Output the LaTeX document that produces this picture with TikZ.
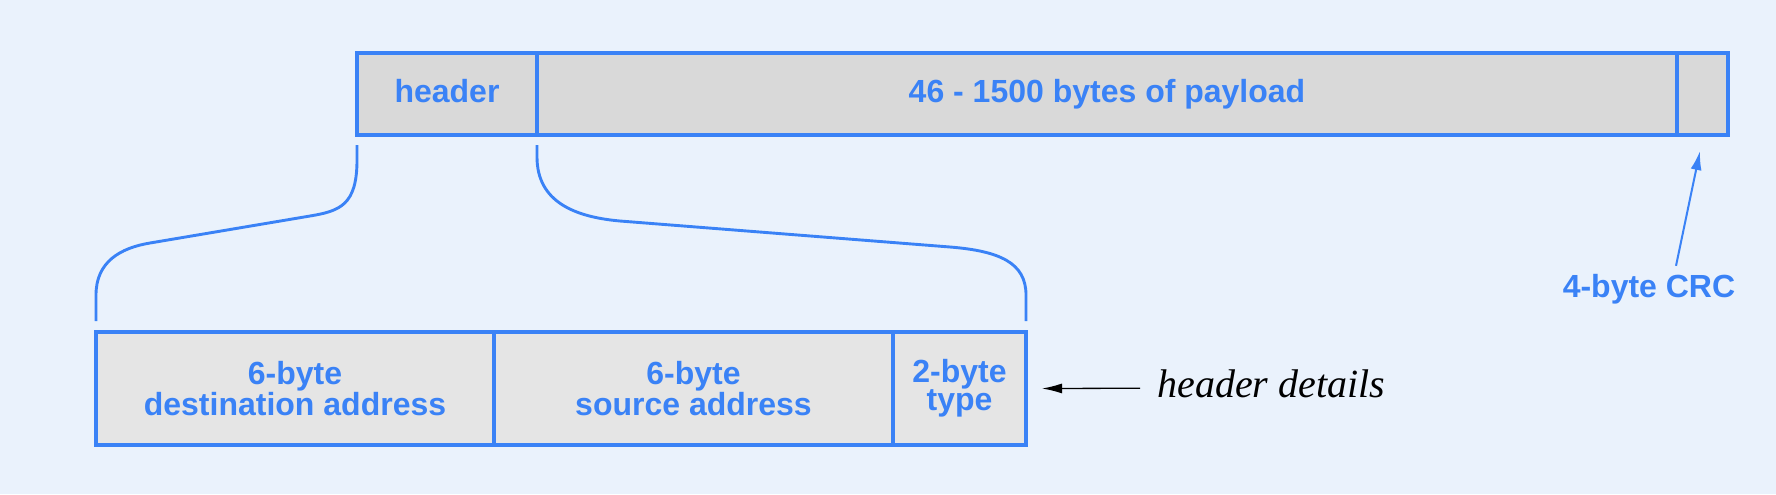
\documentclass[tikz,border=0pt]{standalone}
\usepackage{fontspec}
\setmainfont{Liberation Serif}
\setsansfont{Liberation Sans}
\usetikzlibrary{positioning,arrows.meta}
\definecolor{bgblue}{RGB}{234,242,252}
\definecolor{lineblue}{RGB}{58,130,246}
\definecolor{topgray}{RGB}{217,217,217}
\definecolor{lowgray}{RGB}{229,229,229}
\begin{document}
\begin{tikzpicture}[x=0.5pt, y=-0.5pt,
        basenode/.style={draw=lineblue,line width=1.7pt,rectangle,inner sep=0pt,outer sep=0pt,
          text=lineblue,align=center,font=\sffamily\bfseries\fontsize{16}{14}\selectfont},
        topnode/.style={basenode,fill=topgray,minimum height=41pt,text height=12pt,text depth=3.5pt},
        lownode/.style={basenode,fill=lowgray,minimum height=56.5pt},
        brace/.style={draw=lineblue,line width=1.45pt},
        ptr/.style={draw=lineblue,line width=1pt,-{Latex[length=9.5pt,width=5.5pt]}},
        note/.style={draw=black,line width=0.65pt,-{Latex[length=10pt,width=5pt]}}
        ]
        \fill[bgblue] (0,0) rectangle (1776,494);
        % the frame
        \node[topnode,minimum width=90pt] (hdr) at (447,94) {header};
        \node[topnode,minimum width=570pt,right=0pt of hdr] (pay) {46 - 1500 bytes of payload};
        \node[topnode,minimum width=25.5pt,right=0pt of pay] (crc) {};
        % header details
        \node[lownode,minimum width=199pt] (dst) at (295,388.5) {6-byte\\destination address};
        \node[lownode,minimum width=199.5pt,right=0pt of dst] (src) {6-byte\\source address};
        \node[lownode,minimum width=66.5pt,right=0pt of src] (typ) {2-byte\\type};
        % labels
        \node[font=\sffamily\bfseries\fontsize{16}{14}\selectfont,text=lineblue,inner sep=0pt,anchor=base]
          (crclbl) at (1649,297) {4-byte CRC};
        \node[font=\itshape\fontsize{20}{24}\selectfont,inner sep=0pt,anchor=base west]
          (det) at (1157,397) {header details};
        % braces
        \draw[brace] ([yshift=-5pt]hdr.south west) -- ++(0,15)
          .. controls +(0,45) and +(30,-5) .. ++(-47,56) -- ++(-160,27)
          .. controls +(-30,5) and +(0,-33) .. ++(-54,52) -- ([yshift=5.5pt]dst.north west);
        \draw[brace] ([yshift=-5pt]hdr.south east) -- ++(0,12)
          .. controls +(0,45) and +(-45,-4) .. ++(83,64) -- ++(330,26)
          .. controls +(50,4) and +(0,-32) .. ++(76,48) -- ([yshift=5.5pt]typ.north east);
        % arrows
        \draw[ptr] ([xshift=13.5pt,yshift=3.8pt]crclbl.north) -- ([xshift=-1.25pt,yshift=-8pt]crc.south);
        \draw[note] ([xshift=-8.5pt,yshift=-2.45pt]det.west) -- ([xshift=8pt]typ.east);
\end{tikzpicture}
\end{document}
